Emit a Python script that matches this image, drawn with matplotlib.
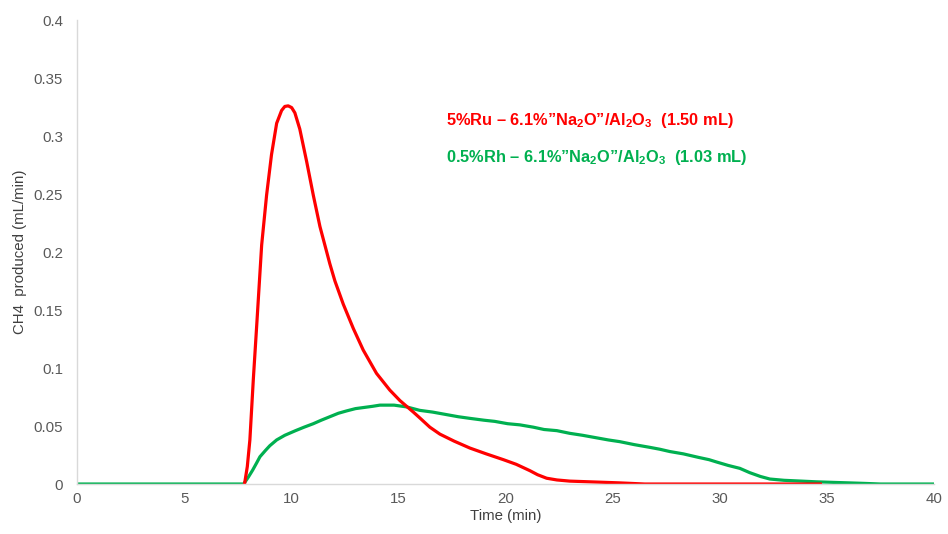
import numpy as np
import matplotlib
matplotlib.use("Agg")
import matplotlib.pyplot as plt

# ---- data ------------------------------------------------------------------
ru_time = [7.82, 7.95, 8.07, 8.23, 8.4, 8.62, 8.85, 9.08, 9.32, 9.55, 9.7, 9.86,
           10.02, 10.17, 10.4, 10.72, 11.03, 11.34, 11.8, 12.04, 12.43, 12.9,
           13.36, 13.98, 14.6, 15.07, 15.7, 16.0, 16.47, 16.94, 17.6, 18.34,
           19.1, 19.9, 20.5, 21.14, 21.5, 21.92, 22.4, 23.0, 25.3, 26.5, 34.7]
ru_ch4 = [0.0, 0.015, 0.038, 0.09, 0.14, 0.206, 0.249, 0.284, 0.311, 0.322,
          0.3255, 0.326, 0.3245, 0.320, 0.306, 0.278, 0.249, 0.222, 0.190,
          0.175, 0.155, 0.134, 0.1155, 0.0954, 0.081, 0.072, 0.062, 0.057,
          0.049, 0.043, 0.037, 0.031, 0.026, 0.021, 0.017, 0.0115, 0.008,
          0.005, 0.0035, 0.0025, 0.001, 0.0, 0.0]

rh_time = [0, 7.78, 8.0, 8.2, 8.38, 8.54, 8.8, 9.0, 9.32, 9.7, 10.2, 10.6,
           11.03, 11.4, 11.8, 12.2, 12.58, 13.0, 13.4, 13.8, 14.14, 14.8, 15.38,
           16.0, 16.6, 17.2, 17.8, 18.34, 19.0, 19.5, 20.1, 20.67, 21.3, 21.8,
           22.4, 23.0, 23.6, 24.2, 24.8, 25.34, 26.0, 26.74, 27.2, 27.67, 28.3,
           29.0, 29.5, 29.85, 30.4, 30.94, 31.4, 31.9, 32.34, 33.0, 33.7, 34.5,
           35.3, 36.0, 36.8, 37.5, 40]
rh_ch4 = [0.0, 0.0, 0.006, 0.012, 0.018, 0.0235, 0.029, 0.033, 0.038, 0.042,
          0.046, 0.049, 0.052, 0.055, 0.058, 0.061, 0.063, 0.065, 0.066, 0.067,
          0.068, 0.068, 0.0665, 0.0635, 0.062, 0.060, 0.058, 0.0566, 0.055,
          0.054, 0.052, 0.051, 0.049, 0.047, 0.046, 0.0437, 0.042, 0.040,
          0.038, 0.0365, 0.034, 0.0316, 0.030, 0.028, 0.026, 0.023, 0.021,
          0.019, 0.016, 0.0135, 0.0098, 0.0065, 0.0043, 0.0032, 0.0026,
          0.0019, 0.0014, 0.001, 0.0005, 0.0, 0.0]

ru_label = "5%Ru \u2013 6.1%\u201dNa$_2$O\u201d/Al$_2$O$_3$  (1.50 mL)"
rh_label = "0.5%Rh \u2013 6.1%\u201dNa$_2$O\u201d/Al$_2$O$_3$  (1.03 mL)"

plt.rcParams["font.family"] = ["Liberation Sans", "DejaVu Sans"]
plt.rcParams["mathtext.fontset"] = "custom"
plt.rcParams["mathtext.rm"] = "Liberation Sans:bold"
plt.rcParams["mathtext.default"] = "rm"

RED, GREEN, GREY = "#FF0000", "#00B050", "#595959"

fig = plt.figure(figsize=(9.48, 5.34), dpi=100)
ax = fig.add_axes([0.0812, 0.0936, 0.904, 0.8689])

ax.plot(rh_time, rh_ch4, color=GREEN, lw=2.3, solid_joinstyle="round")
ax.plot(ru_time, ru_ch4, color=RED, lw=2.3, solid_joinstyle="round")

ax.set_xlim(0, 40); ax.set_ylim(0, 0.4)
ax.set_xticks(np.arange(0, 41, 5))
ax.set_yticks(np.arange(0, 0.401, 0.05))
ax.set_yticklabels(["0", "0.05", "0.1", "0.15", "0.2", "0.25", "0.3", "0.35", "0.4"])
ax.tick_params(length=0, labelsize=10.8, colors=GREY, pad=6)
ax.tick_params(axis="y", pad=10)
for s in ["top", "right"]:
    ax.spines[s].set_visible(False)
for s in ["left", "bottom"]:
    ax.spines[s].set_color("#D9D9D9"); ax.spines[s].set_linewidth(1.0)

ax.set_xlabel("Time (min)", fontsize=10.8, color="#404040", labelpad=2)
ax.set_ylabel("CH4  produced (mL/min)", fontsize=10.8, color="#404040", labelpad=5)

ax.text(0.4307, 0.7845, ru_label, transform=ax.transAxes, color=RED,
        fontsize=11.8, fontweight="bold", va="center")
ax.text(0.4307, 0.7047, rh_label, transform=ax.transAxes, color=GREEN,
        fontsize=11.8, fontweight="bold", va="center")

fig.savefig("out.png", dpi=100)
